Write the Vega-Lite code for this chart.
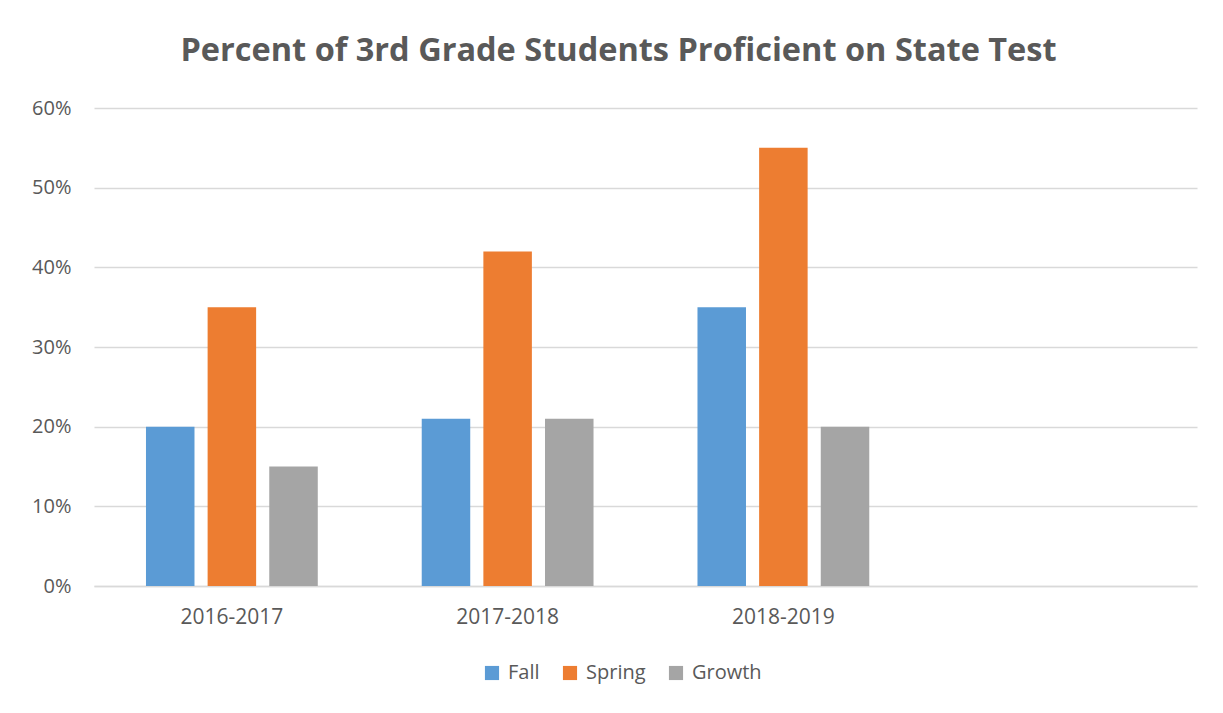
{
  "$schema": "https://vega.github.io/schema/vega-lite/v6.json",
  "width": 1103,
  "height": 478,
  "autosize": {"type": "none"},
  "padding": {"left": 94, "top": 108, "right": 26, "bottom": 127},
  "background": "white",
  "title": {
    "text": "Percent of 3rd Grade Students Proficient on State Test",
    "font": "Open Sans",
    "fontSize": 32.5,
    "fontWeight": "bold",
    "color": "#595959",
    "anchor": "middle",
    "dx": -27,
    "offset": 31
  },
  "data": {
    "values": [
      {"year": "2016-2017", "season": "Fall", "percent": 0.20},
      {"year": "2016-2017", "season": "Spring", "percent": 0.35},
      {"year": "2016-2017", "season": "Growth", "percent": 0.15},
      {"year": "2017-2018", "season": "Fall", "percent": 0.21},
      {"year": "2017-2018", "season": "Spring", "percent": 0.42},
      {"year": "2017-2018", "season": "Growth", "percent": 0.21},
      {"year": "2018-2019", "season": "Fall", "percent": 0.35},
      {"year": "2018-2019", "season": "Spring", "percent": 0.55},
      {"year": "2018-2019", "season": "Growth", "percent": 0.20}
    ]
  },
  "mark": {"type": "bar"},
  "encoding": {
    "x": {
      "field": "year",
      "type": "nominal",
      "sort": null,
      "scale": {"domain": ["2016-2017", "2017-2018", "2018-2019", " "], "paddingInner": 0.377, "paddingOuter": 0.1885},
      "axis": {
        "title": null,
        "labelAngle": 0,
        "labelFont": "Open Sans",
        "labelFontSize": 21,
        "labelColor": "#595959",
        "labelPadding": 20,
        "ticks": false,
        "domainColor": "#D9D9D9",
        "domainWidth": 1.5,
        "grid": false
      }
    },
    "xOffset": {
      "field": "season",
      "type": "nominal",
      "sort": ["Fall", "Spring", "Growth"],
      "scale": {"paddingInner": 0.213, "paddingOuter": 0}
    },
    "y": {
      "field": "percent",
      "type": "quantitative",
      "scale": {"domain": [0, 0.6], "nice": false},
      "axis": {
        "title": null,
        "format": ".0%",
        "values": [0, 0.1, 0.2, 0.3, 0.4, 0.5, 0.6],
        "labelFont": "Open Sans",
        "labelFontSize": 20,
        "labelColor": "#595959",
        "labelPadding": 23,
        "ticks": false,
        "domain": false,
        "gridColor": "#D9D9D9",
        "gridWidth": 1.5
      }
    },
    "color": {
      "field": "season",
      "type": "nominal",
      "sort": ["Fall", "Spring", "Growth"],
      "scale": {"domain": ["Fall", "Spring", "Growth"], "range": ["#5B9BD5", "#ED7D31", "#A5A5A5"]},
      "legend": {
        "title": null,
        "orient": "none",
        "direction": "horizontal",
        "legendX": 388,
        "legendY": 555,
        "symbolType": "square",
        "symbolSize": 200,
        "symbolStrokeWidth": 0,
        "labelFont": "Open Sans",
        "labelFontSize": 20,
        "labelColor": "#595959",
        "columnPadding": 20,
        "labelOffset": 6
      }
    }
  },
  "config": {"view": {"stroke": null}}
}
